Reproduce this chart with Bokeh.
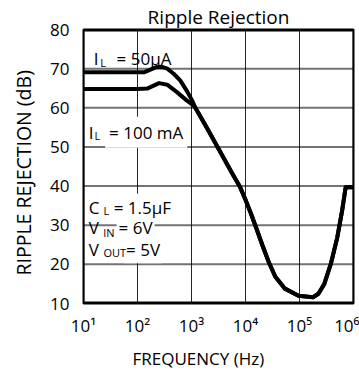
from bokeh.plotting import figure
from bokeh.models import Range1d, FixedTicker, Title, Label, Span
from bokeh.embed import file_html
from bokeh.resources import INLINE

# ---- data ----
# low-frequency part of each curve (Hz, dB)
freq_50ua_low = [10, 100, 135, 178, 234, 295, 355, 468, 617, 813, 1023]
rr_50ua_low = [69.1, 69.1, 69.1, 69.8, 70.5, 70.4, 70.0, 68.7, 67.0, 64.4, 61.9]
freq_100ma_low = [10, 100, 151, 195, 251, 355, 537, 813, 1023]
rr_100ma_low = [64.8, 64.8, 64.9, 65.6, 66.3, 65.9, 64.0, 61.9, 60.9]
# common part above ~1 kHz (both load currents coincide)
freq_common = [1170, 1900, 3300, 5750, 7900, 10000, 12600, 15800, 20400, 26900,
               35500, 53700, 95500, 178000, 224000, 288000, 380000, 501000,
               617000, 716000, 1000000]
rr_common = [60.1, 55.0, 49.1, 43.1, 39.8, 36.5, 33.0, 29.3, 25.0, 20.6,
             16.9, 13.8, 12.0, 11.6, 12.5, 15.0, 20.1, 26.9, 33.8, 39.7, 39.7]

x_ticks = [10, 100, 1000, 10000, 100000, 1000000]
x_tick_labels = ["10\u00b9", "10\u00b2", "10\u00b3", "10\u2074", "10\u2075", "10\u2076"]
y_ticks = [10, 20, 30, 40, 50, 60, 70, 80]

FONT = "Open Sans"

p = figure(width=359, height=376, x_axis_type="log",
           x_range=Range1d(x_ticks[0], x_ticks[-1]),
           y_range=Range1d(y_ticks[0], y_ticks[-1]),
           output_backend="svg", toolbar_location=None,
           min_border_left=78, min_border_right=6,
           min_border_top=29, min_border_bottom=73)
p.title = Title(text="Ripple Rejection", align="center", text_font=FONT,
                text_font_size="19px", text_font_style="normal",
                text_color="black", standoff=0)
p.outline_line_color = "black"
p.outline_line_width = 2

# axes
xt = FixedTicker(ticks=x_ticks, minor_ticks=[])
p.xaxis.ticker = xt
p.xgrid.ticker = xt
yt = FixedTicker(ticks=y_ticks, minor_ticks=[])
p.yaxis.ticker = yt
p.ygrid.ticker = yt
p.xaxis.major_label_overrides = {t: s for t, s in zip(x_ticks, x_tick_labels)}
for ax in (p.xaxis[0], p.yaxis[0]):
    ax.axis_line_color = None
    ax.major_tick_line_color = None
    ax.minor_tick_line_color = None
    ax.major_tick_in = 0
    ax.major_tick_out = 0
    ax.minor_tick_in = 0
    ax.minor_tick_out = 0
    ax.major_label_text_font = FONT
    ax.major_label_text_font_size = "17px"
    ax.major_label_text_color = "black"
p.yaxis.major_label_standoff = 14
p.xaxis.major_label_standoff = 10
p.xgrid.grid_line_color = None
p.ygrid.grid_line_color = None

# axis titles
p.add_layout(Title(text="FREQUENCY (Hz)", align="left", offset=49,
                   text_font=FONT, text_font_size="17px",
                   text_font_style="normal", text_color="black",
                   standoff=10), "below")
p.add_layout(Title(text="RIPPLE REJECTION (dB)", align="left", offset=28,
                   vertical_align="top",
                   text_font=FONT, text_font_size="19.5px",
                   text_font_style="normal", text_color="black",
                   standoff=18), "left")

# horizontal grid lines (and top/bottom frame edges) at the y ticks
is_edge = [t in (y_ticks[0], y_ticks[-1]) for t in y_ticks]
p.multi_line(xs=[[x_ticks[0], x_ticks[-1]] for _ in y_ticks],
             ys=[[t, t] for t in y_ticks],
             line_color="black",
             line_width=[4 if e else 2 for e in is_edge],
             line_alpha=[1.0 if e else 0.55 for e in is_edge])

# curves
p.line(freq_50ua_low + freq_common, rr_50ua_low + rr_common,
       line_color="black", line_width=4, line_join="round", line_cap="butt")
p.line(freq_100ma_low + freq_common, rr_100ma_low + rr_common,
       line_color="black", line_width=4, line_join="round", line_cap="butt")

# vertical grid lines and left/right frame edges at the x ticks
for t in x_ticks:
    edge = t in (x_ticks[0], x_ticks[-1])
    p.add_layout(Span(location=t, dimension="height", line_color="black",
                      line_width=1.6 if edge else 1, line_alpha=1 if edge else 0.85))

# notes: some "= ..." parts carry a white background that hides the grid
def note(x, y, text, size="17px", bg=False, pad=0):
    p.add_layout(Label(x=x, y=y, text=text, text_font=FONT,
                       text_font_size=size, text_color="black",
                       text_baseline="alphabetic", text_align="left",
                       background_fill_color="white" if bg else None,
                       padding=pad))

# backgrounds first, bottom line first so upper descenders stay visible
note(56.4, 23.7, "= 5V", bg=True, pad=2)
note(41.0, 29.5, "= 6V", bg=True, pad=2)
note(33.3, 34.6, "= 1.5\u00b5F", bg=True, pad=2)
note(25.1, 53.76, "= 100 mA", bg=True, pad=4)
note(41.0, 72.5, "= 50\u00b5A")

note(15.4, 72.5, "I")
note(20.4, 71.65, "L", "11px")
note(12.5, 53.76, "I")
note(16.0, 52.9, "L", "11px")
note(12.5, 34.6, "C")
note(23.4, 33.75, "L", "11px")
note(12.5, 29.5, "V")
note(23.1, 28.2, "IN", "11px")
note(12.5, 23.7, "V")
note(23.4, 23.1, "OUT", "11px")

open("out.html", "w").write(file_html(p, INLINE))
